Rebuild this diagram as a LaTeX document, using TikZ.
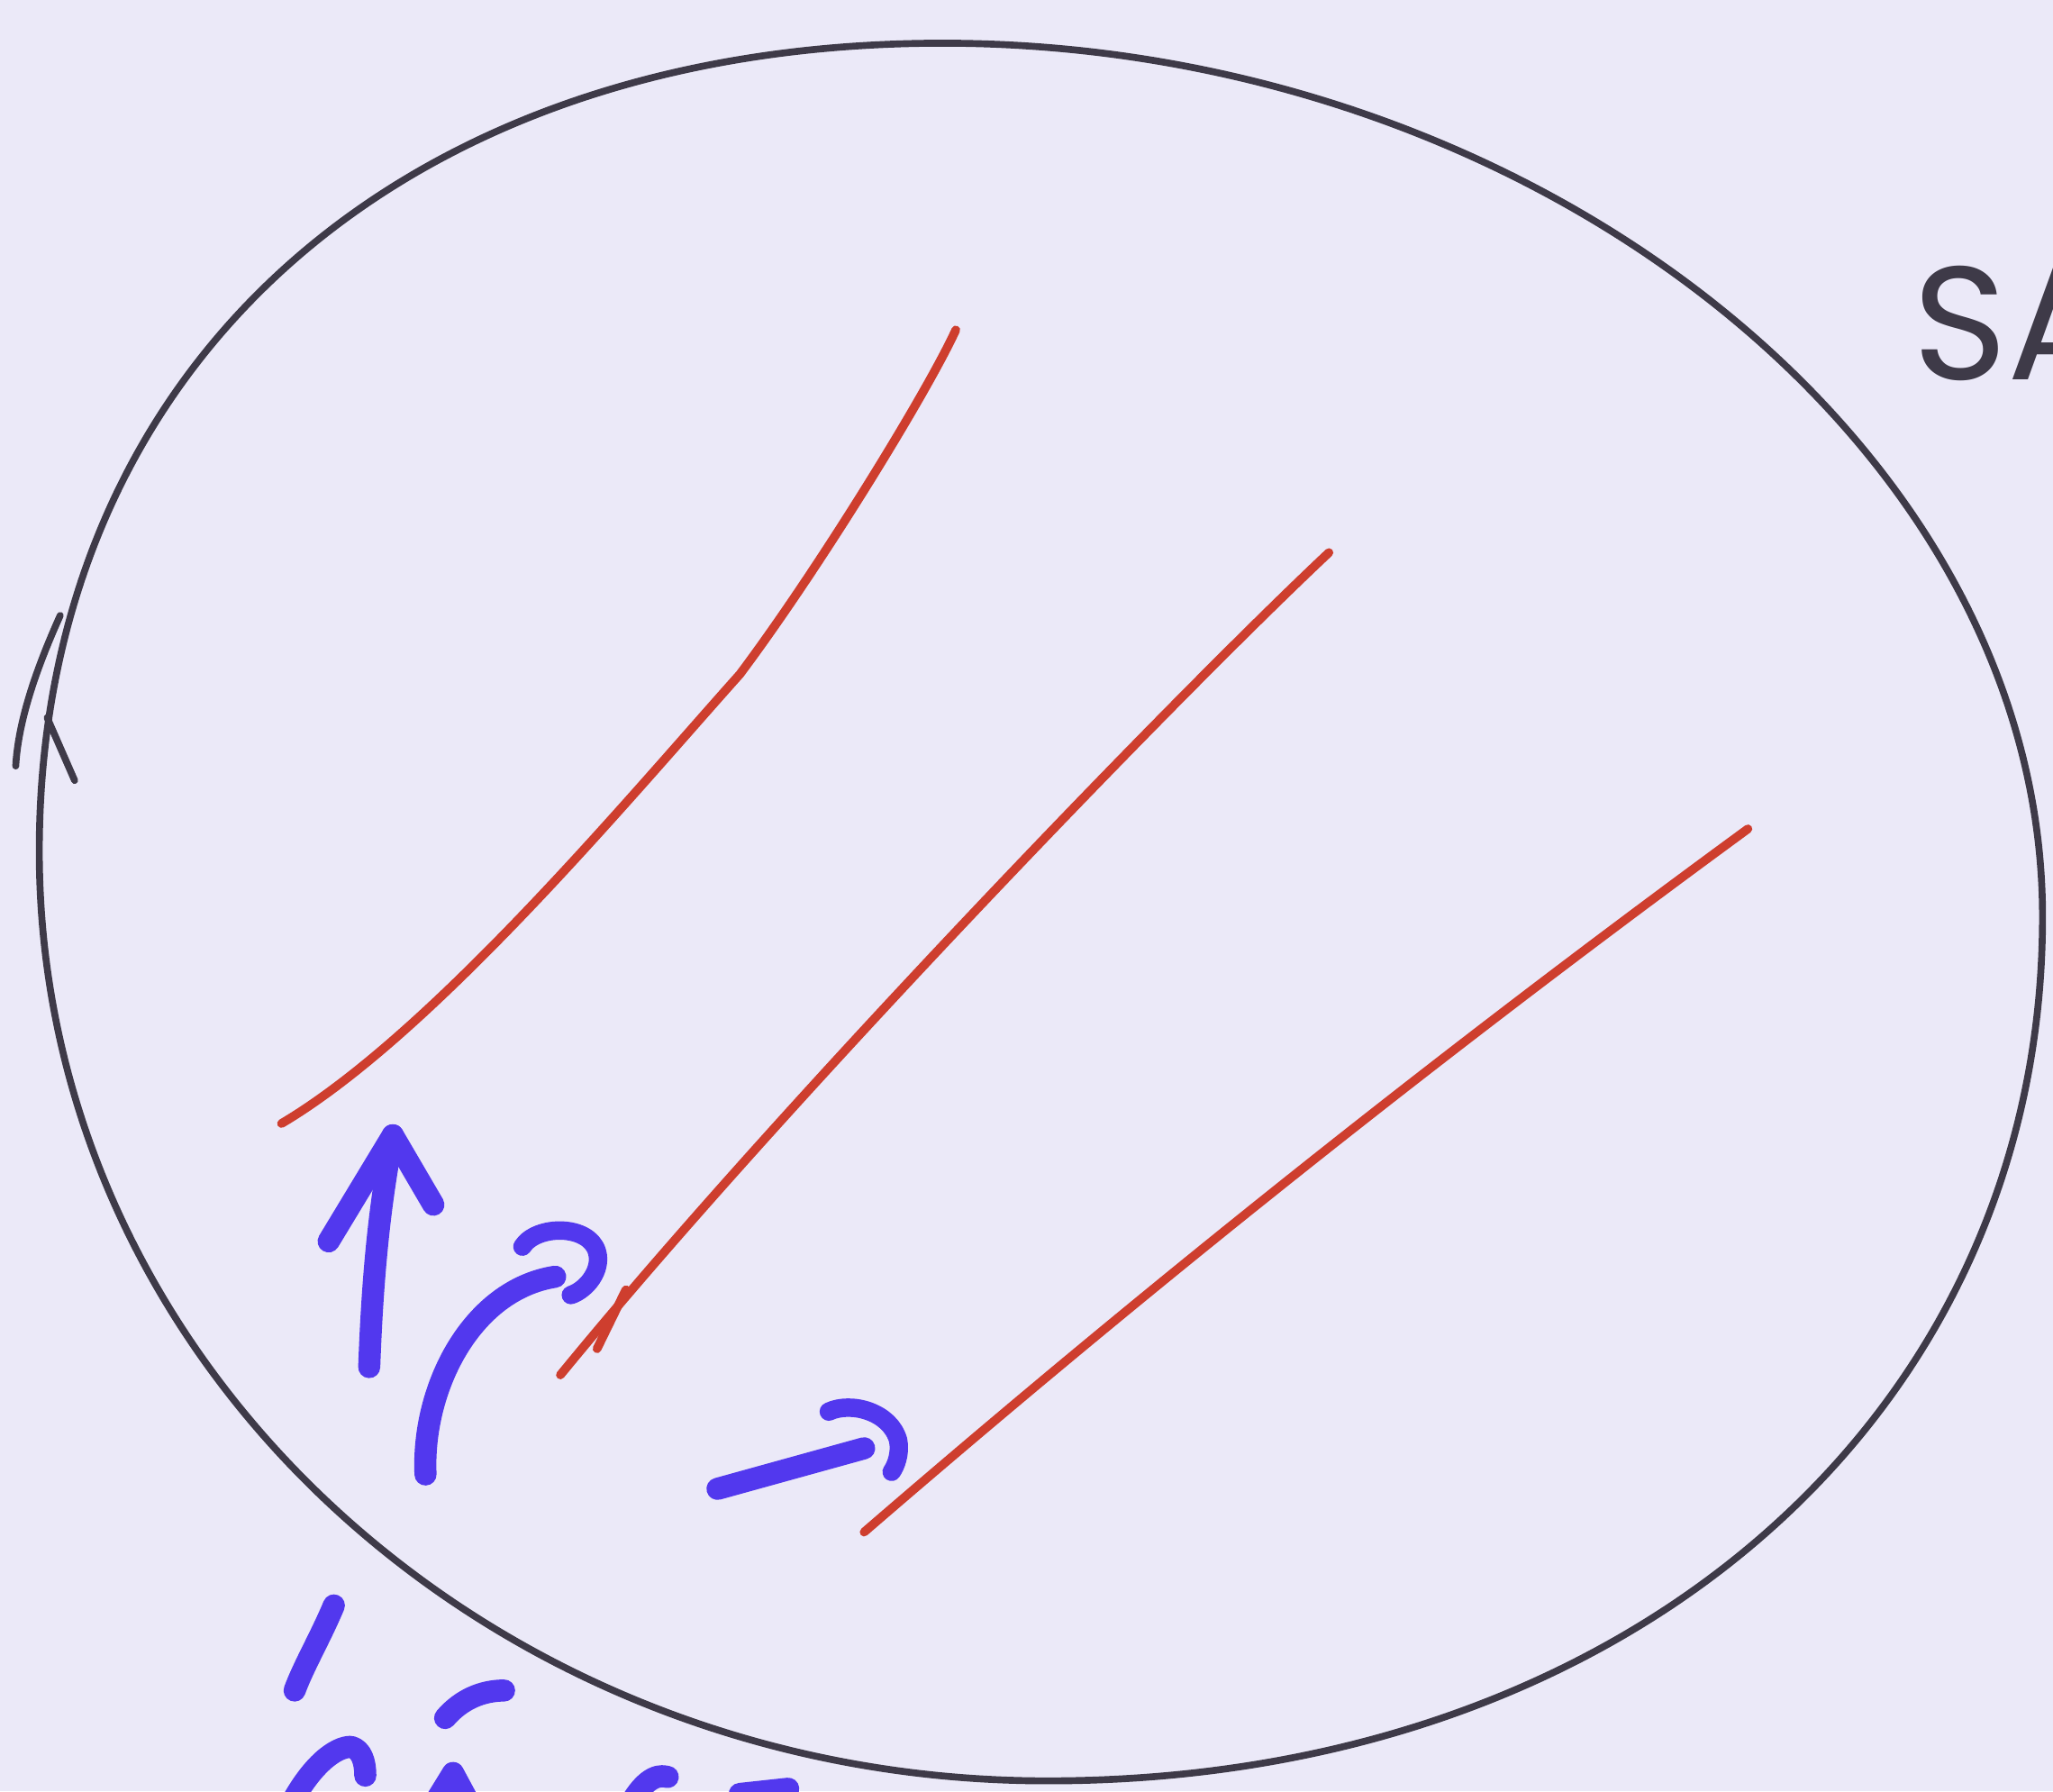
\documentclass[tikz,border=0pt]{standalone}
\usepackage{xcolor}
\usepackage{fontspec}
\usepackage{tikz}
\setmainfont{Poppins}

\definecolor{paper}{RGB}{235,233,248}
\definecolor{pencil}{RGB}{62,58,72}
\definecolor{redpen}{RGB}{206,62,46}
\definecolor{bluepen}{RGB}{82,56,238}

\tikzset{
	rim/.style={draw=pencil, line width=1.5pt, line cap=round, line join=round},
	redline/.style={draw=redpen, line width=1.9pt, line cap=round, line join=round},
	bluestroke/.style={draw=bluepen, line width=4.8pt, line cap=round, line join=round},
	bluehook/.style={draw=bluepen, line width=4pt, line cap=round, line join=round}
}

\begin{document}
\begin{tikzpicture}[x=0.01cm, y=-0.01cm]

	\useasboundingbox (0,0) rectangle (1568,1368);
	\clip (0,0) rectangle (1568,1368);
	\fill[paper] (0,0) rectangle (1568,1368);

	% the circle, with the overlap where the stroke closes
	\draw[rim] (720,33) .. controls (1170,33) and (1560,340) .. (1560,700)
		.. controls (1560,1083) and (1241,1360) .. (800,1360)
		.. controls (375,1360) and (30,1042) .. (30,650)
		.. controls (30,280) and (306,33) .. (720,33) -- cycle;
	\draw[rim] (46,470) .. controls (28,510) and (14,550) .. (12,585);
	\draw[rim] (36,548) -- (57,596);

	% red lines
	\draw[redline] (730,252) .. controls (708,300) and (625,435) .. (565,515)
		.. controls (480,610) and (330,790) .. (215,858);
	\draw[redline] (1015,422) .. controls (900,530) and (600,840) .. (428,1050);
	\draw[redline] (478,985) -- (456,1030);
	\draw[redline] (1335,633) .. controls (1100,805) and (880,980) .. (660,1170);

	% blue arrows
	\draw[bluestroke] (282,1044) .. controls (285,960) and (292,910) .. (300,867);
	\draw[bluestroke] (251,948) -- (300,867) -- (331,920);
	\draw[bluestroke] (325,1126) .. controls (322,1060) and (360,985) .. (424,975);
	\draw[bluehook] (399,952) .. controls (410,935) and (450,935) .. (456,956) .. controls (460,970) and (448,985) .. (436,989);
	\draw[bluestroke] (548,1137) -- (660,1106);
	\draw[bluehook] (633,1078) .. controls (650,1070) and (680,1078) .. (686,1100) .. controls (688,1110) and (684,1120) .. (681,1124);

	% blue writing cut by the lower edge
	\draw[bluestroke] (255,1226) .. controls (245,1250) and (232,1272) .. (225,1291);
	\draw[bluestroke] (340,1312) .. controls (352,1298) and (368,1291) .. (385,1291);
	\draw[bluestroke] (222,1378) .. controls (238,1348) and (256,1334) .. (268,1334) .. controls (276,1336) and (279,1345) .. (279,1356);
	\draw[bluestroke] (330,1380) -- (346,1354) -- (360,1380);
	\draw[bluestroke] (480,1380) .. controls (490,1362) and (500,1354) .. (510,1357);
	\draw[bluestroke] (565,1370) -- (602,1366);

	% pencil text at the right edge
	\node[font=\fontsize{35}{40}\selectfont, text=pencil, anchor=base west, inner sep=0pt] (sala) at (1460,290) {SA};

\end{tikzpicture}
\end{document}
